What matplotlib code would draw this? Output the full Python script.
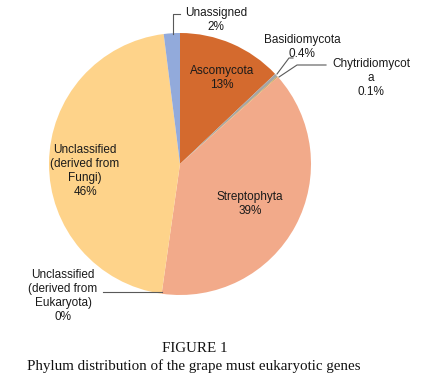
import matplotlib.pyplot as plt

# data
phyla = ["Ascomycota", "Basidiomycota", "Chytridiomycota", "Streptophyta",
         "Unclassified\n(derived from\nEukaryota)", "Unclassified\n(derived from\nFungi)",
         "Unassigned"]
shares = [13, 0.4, 0.1, 39, 0, 46, 2]
colors = ["#D46A2E", "#A5A5A5", "#C9A23C", "#F2AA8A", "#FFC000", "#FED38A", "#92AADB"]

W, H = 433, 381
fig = plt.figure(figsize=(W / 100, H / 100), dpi=100)
ax = fig.add_axes([0, 0, 1, 1])

cx, cy, r = 180, H - 164, 131
ax.pie(shares, colors=colors, startangle=90, counterclock=False,
       center=(cx, cy), radius=r, wedgeprops=dict(linewidth=0))

# pie resets the limits, so set the pixel frame afterwards
ax.set_xlim(0, W)
ax.set_ylim(0, H)
ax.set_aspect("equal")
ax.axis("off")


def px(x, y):
    return x, H - y


txt = dict(fontsize=8.5, family="Liberation Sans", color="#1a1a1a",
           ha="center", va="center", linespacing=1.2)

# labels inside the pie
ax.text(*px(222, 78), f"{phyla[0]}\n{shares[0]:g}%", **txt)
ax.text(*px(250, 204), f"{phyla[3]}\n{shares[3]:g}%", **txt)
ax.text(*px(85, 171), f"{phyla[5]}\n{shares[5]:g}%", **txt)

# outside labels with leader lines
line = dict(color="#595959", lw=0.8)
ax.text(*px(216, 20), f"{phyla[6]}\n{shares[6]:g}%", **txt)
ax.plot(*zip(px(173, 34), px(173, 14), px(180, 14)), **line)

ax.text(*px(302, 47), f"{phyla[1]}\n{shares[1]:g}%", **txt)
ax.plot(*zip(px(277, 74), px(289, 58), px(293, 58)), **line)

ax.text(*px(371, 78), "Chytridiomycot\na\n0.1%", **txt)
ax.plot(*zip(px(279, 77), px(297, 65), px(326, 65)), **line)

ax.text(*px(63, 296), f"{phyla[4]}\n{shares[4]:g}%", **txt)
ax.plot(*zip(px(162, 292), px(103, 292)), **line)

# caption
cap = dict(family="Liberation Serif", fontsize=10.8, color="#111111", va="center")
ax.text(*px(195, 349), "FIGURE 1", ha="center", **cap)
ax.text(*px(27, 366), "Phylum distribution of the grape must eukaryotic genes", ha="left", **cap)

fig.savefig("out.png", dpi=100)
